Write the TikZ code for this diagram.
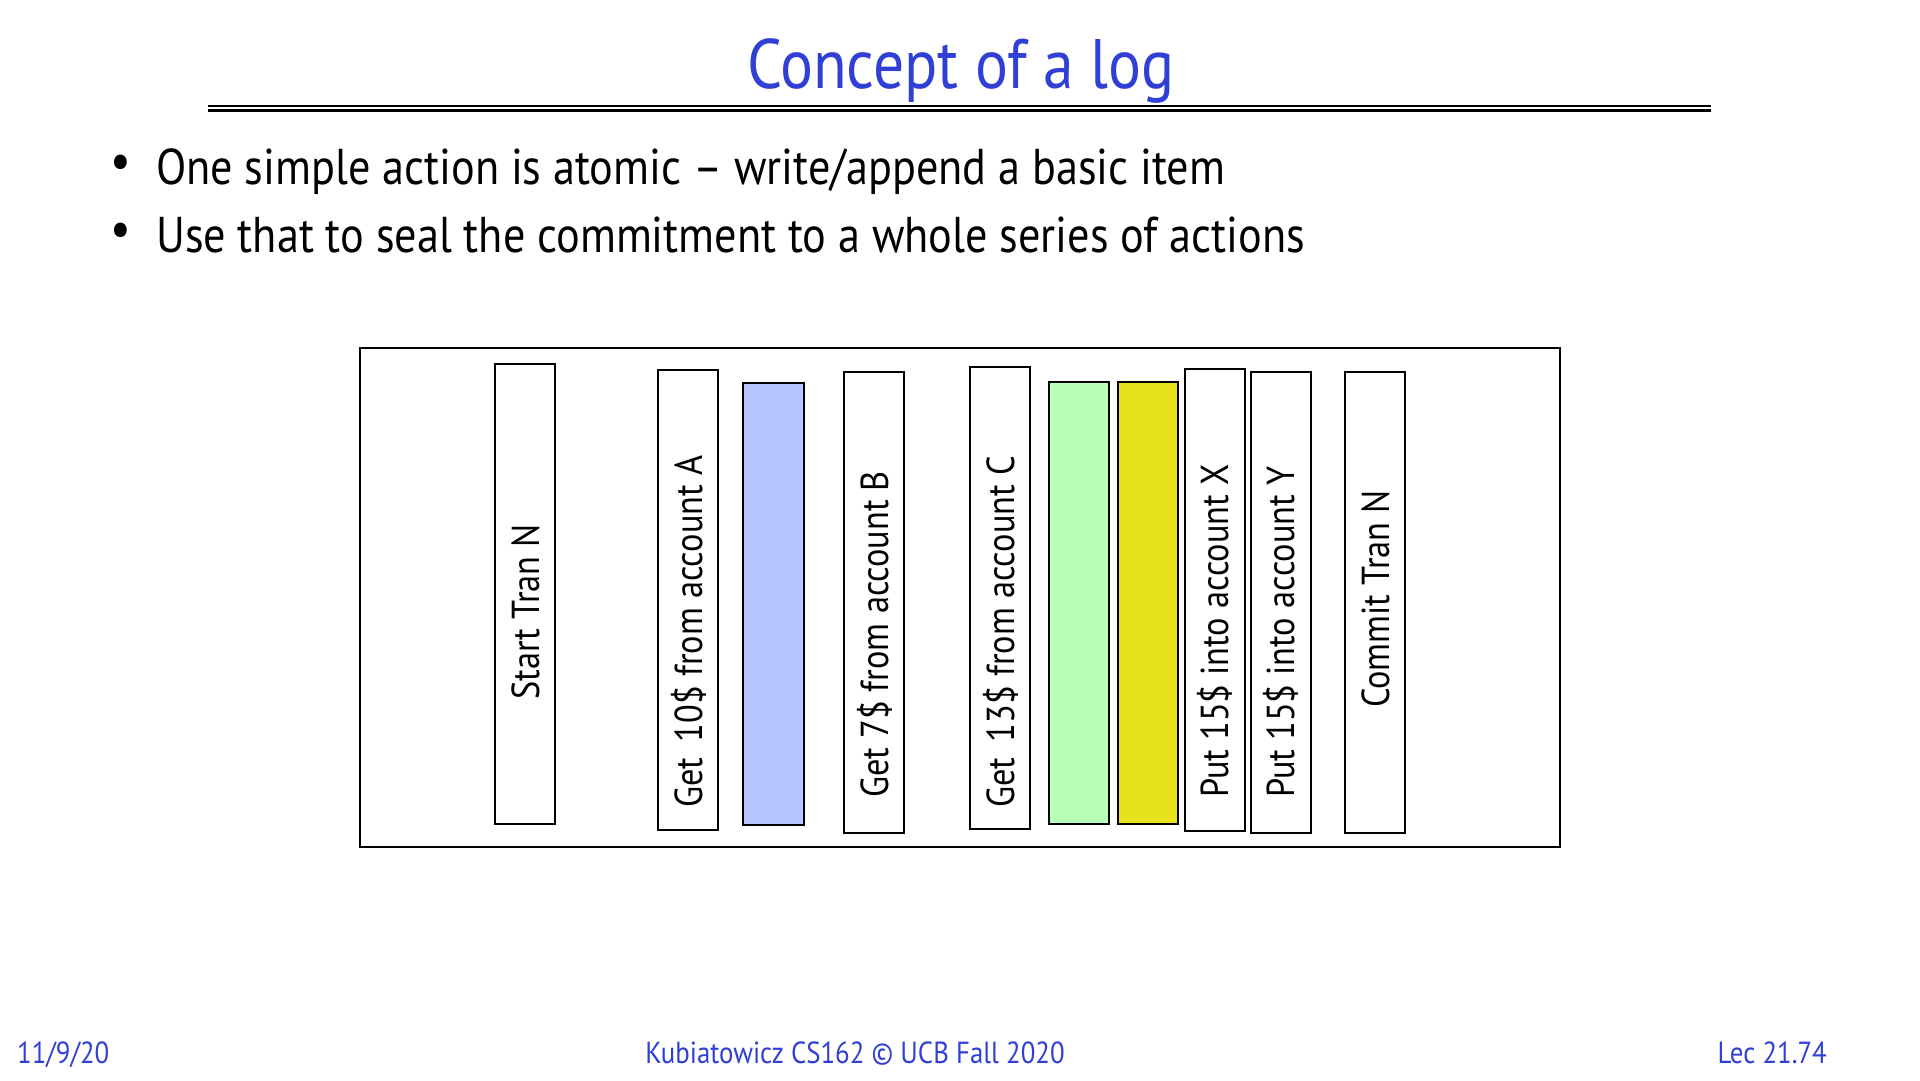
\documentclass[tikz,border=0pt]{standalone}
\usepackage{fontspec}
\setmainfont{PT Sans}[FakeStretch=0.88]
\definecolor{slideblue}{RGB}{48,64,214}
\definecolor{cellblue}{RGB}{184,198,255}
\definecolor{cellgreen}{RGB}{184,255,184}
\definecolor{cellyellow}{RGB}{232,226,30}
\tikzset{
  logcell/.style={draw=black, line width=2pt, fill=white, inner sep=0pt, minimum width=60pt},
  celltext/.style={rotate=90, anchor=west, inner sep=0pt, font=\fontsize{39}{43}\selectfont},
  bullettext/.style={anchor=base west, inner sep=0pt, font=\fontsize{50.3}{55}\selectfont},
  bulletdot/.style={anchor=center, inner sep=0pt, font=\fontsize{52}{56}\selectfont},
  footer/.style={text=slideblue, inner sep=0pt, anchor=base, font=\fontsize{30.5}{34}\selectfont}
}
\begin{document}
\begin{tikzpicture}[x=1pt,y=1pt]
\useasboundingbox[fill=white] (0,0) rectangle (1920,-1080);

% heading and its double rule
\node[text=slideblue, anchor=base, inner sep=0pt, font=\fontsize{70}{76}\selectfont] (title) at (961,-88) {Concept of a log};
\coordinate (ruleL) at (208,-106);
\coordinate (ruleR) at (1711,-106);
\draw[line width=2.5pt] (ruleL) -- (ruleR);
\draw[line width=2.5pt] ([yshift=-4.5pt]ruleL) -- ([yshift=-4.5pt]ruleR);

% bullet points
\node[bulletdot] (dot1) at (121,-167) {•};
\node[bullettext] (item1) at (156,-184) {One simple action is atomic – write/append a basic item};
\node[bulletdot] (dot2) at (121,-235) {•};
\node[bullettext] (item2) at (156,-252) {Use that to seal the commitment to a whole series of actions};

% the log frame
\node[draw=black, line width=2pt, minimum width=1200pt, minimum height=499pt, inner sep=0pt] (log) at (960,-597.5) {};

% log records
\node[logcell, minimum height=460pt] (start) at (525,-594) {};
\node[logcell, minimum height=460pt] (getA) at (688,-600) {};
\node[logcell, fill=cellblue, minimum height=442pt, minimum width=61pt] (blue) at (773.5,-604) {};
\node[logcell, minimum height=461pt] (getB) at (874,-602.5) {};
\node[logcell, minimum height=462pt] (getC) at (1000,-598) {};
\node[logcell, fill=cellgreen, minimum height=442pt] (green) at (1079,-603) {};
\node[logcell, fill=cellyellow, minimum height=442pt] (yellow) at (1148,-603) {};
\node[logcell, minimum height=462pt] (putX) at (1214.5,-600) {};
\node[logcell, minimum height=461pt] (putY) at (1280.5,-602.5) {};
\node[logcell, minimum height=461pt] (commit) at (1375,-602.5) {};

% record labels, read bottom to top
\node[celltext] (tStart) at (526,-700) {Start Tran N};
\node[celltext] (tGetA) at (689,-808) {Get \,10\$ from account A};
\node[celltext] (tGetB) at (875,-798) {Get 7\$ from account B};
\node[celltext] (tGetC) at (1001,-808) {Get \,13\$ from account C};
\node[celltext] (tPutX) at (1215,-798) {Put 15\$ into account X};
\node[celltext] (tPutY) at (1281,-798) {Put 15\$ into account Y};
\node[celltext] (tCommit) at (1376,-708) {Commit Tran N};

% footer
\node[footer, anchor=base west] (date) at (17,-1063) {11/9/20};
\node[footer] (course) at (855,-1063) {Kubiatowicz CS162 © UCB Fall 2020};
\node[footer, anchor=base east] (page) at (1827,-1063) {Lec 21.74};
\end{tikzpicture}
\end{document}
